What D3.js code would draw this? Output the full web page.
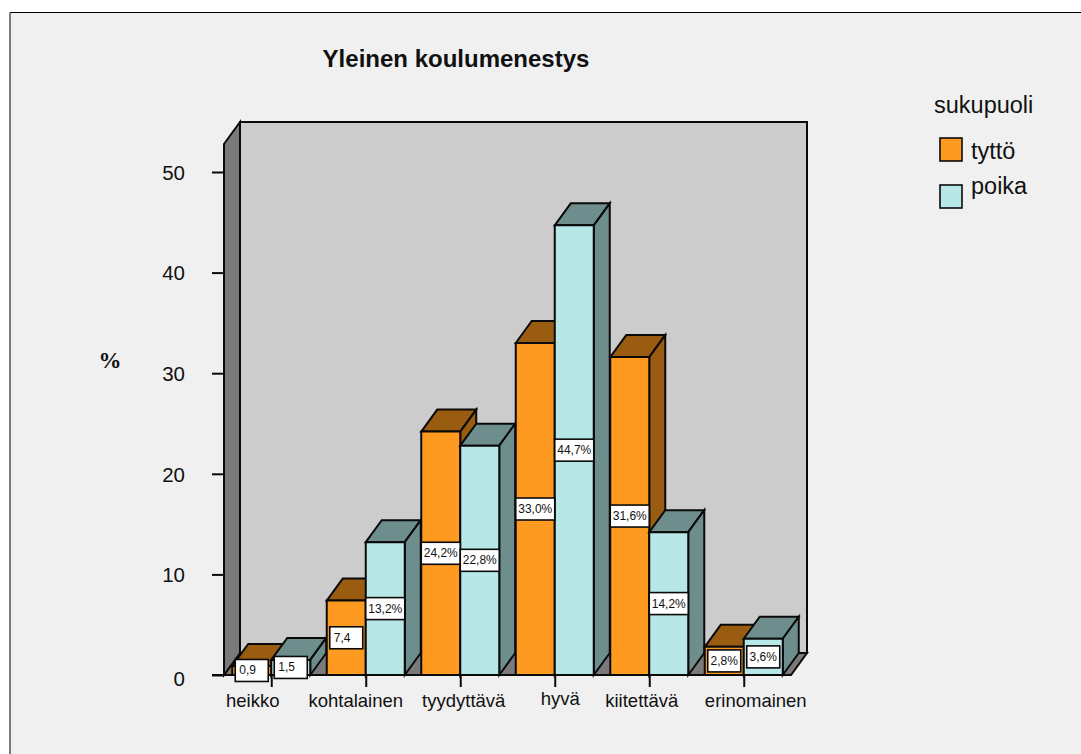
<!DOCTYPE html>
<html><head><meta charset="utf-8">
<script src="https://cdn.jsdelivr.net/npm/d3@7/dist/d3.min.js"></script>
<style>html,body{margin:0;padding:0;background:#fff}svg{display:block}text{font-family:"Liberation Sans",Arial,sans-serif;fill:#111}</style>
</head><body><svg id="c" width="1081" height="754"></svg>
<script>
const categories=["heikko","kohtalainen","tyydyttävä","hyvä","kiitettävä","erinomainen"];
const seriesNames=["tyttö","poika"];
const tytto=[0.9,7.4,24.2,33.0,31.6,2.8];
const poika=[1.5,13.2,22.8,44.7,14.2,3.6];
const tyttoLabels=["0,9","7,4","24,2%","33,0%","31,6%","2,8%"];
const poikaLabels=["1,5","13,2%","22,8%","44,7%","14,2%","3,6%"];
const yTicks=[0,10,20,30,40,50];

const colors={tyttö:{front:"#fd9a1f",dark:"#995c10"},poika:{front:"#b7e7e7",dark:"#6e8e8e"}};
const svg=d3.select("#c");
const stroke="#0a0a0a";
const dx=16,dy=22;
const x0=224,x1=791,yBase=675;
const y=d3.scaleLinear().domain([0,50]).range([yBase,172]);
const xCat=d3.scaleBand().domain(categories).range([x0,x1]);
const xSer=d3.scaleBand().domain(seriesNames).range([xCat.bandwidth()/2-39,xCat.bandwidth()/2+39]);
const yTop=122;
const poly=(pts,fill,sw=2)=>svg.append("polygon").attr("points",pts.map(p=>p.join(",")).join(" "))
  .attr("fill",fill).attr("stroke",stroke).attr("stroke-width",sw).attr("stroke-linejoin","miter");

svg.append("rect").attr("x",10).attr("y",12.5).attr("width",1071).attr("height",742).attr("fill","#f0f0f0");
svg.append("path").attr("d","M1081,12.5H10V754").attr("fill","none").attr("stroke","#000").attr("stroke-width",1);

// walls and floor
poly([[x0,yBase],[x0+dx,yBase-dy],[x1+dx,yBase-dy],[x1,yBase]],"#7a7a7a");
poly([[x0+dx,yTop],[x1+dx,yTop],[x1+dx,yBase-dy],[x0+dx,yBase-dy]],"#cccccc");
poly([[x0,yTop+dy],[x0+dx,yTop],[x0+dx,yBase-dy],[x0,yBase]],"#7a7a7a");

// axes
const yAxis=d3.axisLeft(y).tickValues(yTicks).tickSize(12).tickPadding(30);
const gy=svg.append("g").attr("transform",`translate(${x0},0)`).call(yAxis);
gy.select(".domain").remove();
gy.selectAll("line").attr("stroke",stroke).attr("stroke-width",2);
gy.selectAll("text").attr("x",-39).attr("font-size",20.5).attr("dy","0.36em").style("font-family",'"Liberation Sans"');
gy.selectAll(".tick").filter(d=>d===0).select("text").attr("dy","0.5em");

const labelNudge=[-19,-10.5,3,5,-8,11.5];
const labelLift=[0,0,0,-2,0,0];
const xAxis=d3.axisBottom(d3.scalePoint().domain(categories).range([xCat(categories[0])+xCat.bandwidth()/2,xCat(categories[5])+xCat.bandwidth()/2]))
  .tickSize(12).tickPadding(8).tickSizeOuter(0);
const gx=svg.append("g").attr("transform",`translate(0,${yBase})`).call(xAxis);
gx.select(".domain").remove();
gx.selectAll("line").attr("stroke",stroke).attr("stroke-width",2);
gx.selectAll("text").attr("font-size",18.5).style("font-family",'"Liberation Sans"')
  .attr("x",(d,i)=>labelNudge[i]).attr("y",(d,i)=>19+labelLift[i]);

// baseline left stub
svg.append("line").attr("x1",212).attr("x2",x1).attr("y1",yBase).attr("y2",yBase).attr("stroke",stroke).attr("stroke-width",2);

// bars
const bw=xSer.bandwidth();
function bar(cat,name,v){
  const xl=xCat(cat)+xSer(name),xr=xl+bw,t=y(v),c=colors[name];
  poly([[xl,t],[xl+dx,t-dy],[xr+dx,t-dy],[xr,t]],c.dark);
  poly([[xr,t],[xr+dx,t-dy],[xr+dx,yBase-dy],[xr,yBase]],c.dark);
  poly([[xl,t],[xr,t],[xr,yBase],[xl,yBase]],c.front);
}
categories.forEach((cat,i)=>{bar(cat,"tyttö",tytto[i]);bar(cat,"poika",poika[i]);});

// value boxes
function box(cat,name,v,label){
  const cx=xCat(cat)+xSer(name)+bw/2,cy=y(v/2),w=v>=10?bw:33,h=22;
  const pct=label.endsWith("%");
  svg.append("rect").attr("x",cx-w/2).attr("y",cy-h/2).attr("width",w).attr("height",h)
    .attr("fill","#fff").attr("stroke",stroke).attr("stroke-width",1.6);
  svg.append("text").attr("x",pct?cx:cx-w/2+4).attr("y",cy+4).attr("text-anchor",pct?"middle":"start").attr("font-size",12).text(label);
}
categories.forEach((cat,i)=>{box(cat,"tyttö",tytto[i],tyttoLabels[i]);box(cat,"poika",poika[i],poikaLabels[i]);});

// titles
svg.append("text").attr("x",456).attr("y",67).attr("text-anchor","middle").attr("font-size",24).attr("font-weight","bold").text("Yleinen koulumenestys");
svg.append("text").attr("x",110).attr("y",368).attr("text-anchor","middle").attr("font-size",23).attr("font-weight","bold").style("font-family",'"Liberation Serif"').text("%");

// legend
svg.append("text").attr("x",934).attr("y",113).attr("font-size",23.5).text("sukupuoli");
const legY=[138,185],legT=[159,194];
seriesNames.forEach((n,i)=>{
  svg.append("rect").attr("x",940).attr("y",legY[i]).attr("width",22).attr("height",23).attr("fill",colors[n].front).attr("stroke",stroke).attr("stroke-width",1.6);
  svg.append("text").attr("x",971).attr("y",legT[i]).attr("font-size",23.5).text(n);
});
</script></body></html>
